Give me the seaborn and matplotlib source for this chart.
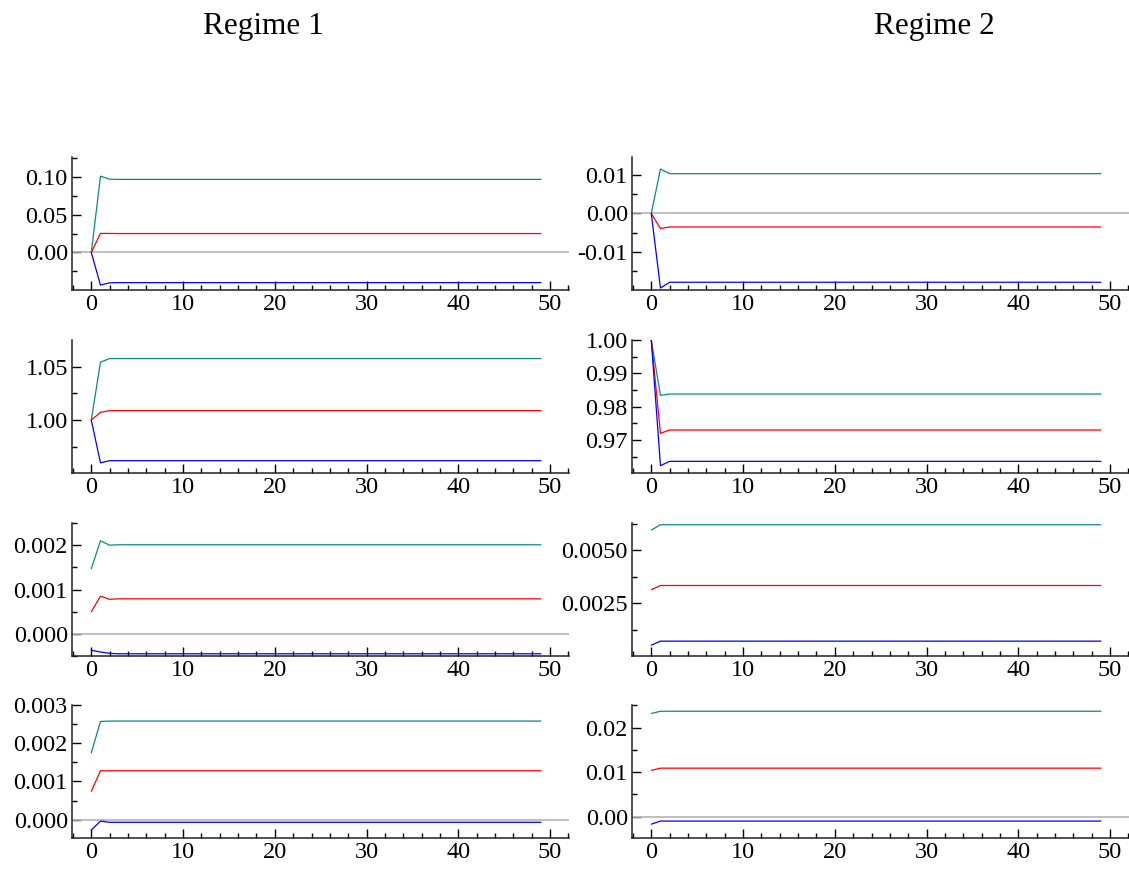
import matplotlib
matplotlib.use("Agg")
import pandas as pd
import seaborn as sns
import matplotlib.pyplot as plt
from matplotlib.ticker import MultipleLocator

# horizon 0..49 (flat after the first few steps)
H = 50
steps = list(range(H))

# Regime 1
r1_row1_up = [0.0, 0.1007, 0.0967] + [0.0965] * 47
r1_row1_mid = [0.0, 0.0252, 0.0251] + [0.0250] * 47
r1_row1_lo = [0.0, -0.0430, -0.0400] + [-0.0398] * 47

r1_row2_up = [1.0, 1.0541, 1.0575] + [1.0575] * 47
r1_row2_mid = [1.0, 1.0072, 1.0088] + [1.0088] * 47
r1_row2_lo = [1.0, 0.9600, 0.9620] + [0.9620] * 47

r1_row3_up = [0.00147, 0.00210, 0.00200] + [0.00201] * 47
r1_row3_mid = [0.00050, 0.00085, 0.00078] + [0.00079] * 47
r1_row3_lo = [-0.00037, -0.00041, -0.00044] + [-0.00045] * 47

r1_row4_up = [0.00175, 0.00257, 0.00258] + [0.00258] * 47
r1_row4_mid = [0.00074, 0.00128, 0.00128] + [0.00128] * 47
r1_row4_lo = [-0.00027, -0.00004, -0.00007] + [-0.00007] * 47

# Regime 2
r2_row1_up = [0.0, 0.0115, 0.0103] + [0.0103] * 47
r2_row1_mid = [0.0, -0.0039, -0.0035] + [-0.0035] * 47
r2_row1_lo = [0.0, -0.0193, -0.0178] + [-0.0178] * 47

r2_row2_up = [1.0, 0.9834, 0.9838] + [0.9838] * 47
r2_row2_mid = [1.0, 0.9720, 0.9730] + [0.9730] * 47
r2_row2_lo = [1.0, 0.9623, 0.9636] + [0.9636] * 47

r2_row3_up = [0.00595, 0.00620, 0.00620] + [0.00620] * 47
r2_row3_mid = [0.00314, 0.00334, 0.00334] + [0.00334] * 47
r2_row3_lo = [0.00053, 0.00072, 0.00072] + [0.00072] * 47

r2_row4_up = [0.0232, 0.0237, 0.0237] + [0.0237] * 47
r2_row4_mid = [0.0104, 0.0109, 0.0109] + [0.0109] * 47
r2_row4_lo = [-0.0017, -0.0010, -0.0010] + [-0.0010] * 47

titles = ["Regime 1", "Regime 2"]

panels = [
    [(r1_row1_up, r1_row1_mid, r1_row1_lo), (r2_row1_up, r2_row1_mid, r2_row1_lo)],
    [(r1_row2_up, r1_row2_mid, r1_row2_lo), (r2_row2_up, r2_row2_mid, r2_row2_lo)],
    [(r1_row3_up, r1_row3_mid, r1_row3_lo), (r2_row3_up, r2_row3_mid, r2_row3_lo)],
    [(r1_row4_up, r1_row4_mid, r1_row4_lo), (r2_row4_up, r2_row4_mid, r2_row4_lo)],
]

# y limits, major and minor steps per panel
ylims = [
    [(-0.0495, 0.126), (-0.0198, 0.0146)],
    [(0.9505, 1.0748), (0.9601, 1.0)],
    [(-0.0005, 0.0025), (0.00002, 0.00628)],
    [(-0.00048, 0.003), (-0.0048, 0.0251)],
]
ysteps = [
    [(0.05, 0.025), (0.01, 0.005)],
    [(0.05, 0.025), (0.01, 0.005)],
    [(0.001, 0.0005), (0.0025, 0.00125)],
    [(0.001, 0.0005), (0.01, 0.005)],
]
yfmt = [
    ["%.2f", "%.2f"],
    ["%.2f", "%.2f"],
    ["%.3f", "%.4f"],
    ["%.3f", "%.2f"],
]

colors = ["#0a8a85", "#ff0000", "#0000ff"]

sns.set_theme(style="ticks")
plt.rcParams["font.family"] = ["Liberation Serif", "DejaVu Serif"]
plt.rcParams["xtick.direction"] = "in"
plt.rcParams["ytick.direction"] = "in"
plt.rcParams["text.color"] = "black"
plt.rcParams["xtick.color"] = "black"
plt.rcParams["ytick.color"] = "black"
plt.rcParams["xtick.labelcolor"] = "black"
plt.rcParams["ytick.labelcolor"] = "black"

fig = plt.figure(figsize=(11.29, 8.69), dpi=100)

lefts = [0.0638, 0.5598]
width = 0.4405
bottoms = [0.6663, 0.4557, 0.2451, 0.0357]
height = 0.153

for r in range(4):
    for c in range(2):
        ax = fig.add_axes([lefts[c], bottoms[r], width, height])
        lo_lim, hi_lim = ylims[r][c]
        if lo_lim < 0 < hi_lim:
            ax.axhline(0, color="#b4b4b4", lw=1.2, zorder=1)
        for series, col in zip(panels[r][c], colors):
            df = pd.DataFrame({"t": steps, "v": series})
            sns.lineplot(data=df, x="t", y="v", color=col, lw=0.9, ax=ax, zorder=2)
        ax.set_xlim(-2.1, 52.1)
        ax.set_ylim(lo_lim, hi_lim)
        ax.xaxis.set_major_locator(MultipleLocator(10))
        ax.xaxis.set_minor_locator(MultipleLocator(2))
        ax.yaxis.set_major_locator(MultipleLocator(ysteps[r][c][0]))
        ax.yaxis.set_minor_locator(MultipleLocator(ysteps[r][c][1]))
        ax.yaxis.set_major_formatter(plt.FormatStrFormatter(yfmt[r][c]))
        ax.tick_params(which="major", length=6.5, width=1, labelsize=17.5, pad=3,
                       colors="black")
        ax.tick_params(which="minor", length=3.5, width=1, colors="black")
        ax.set_xlabel("")
        ax.set_ylabel("")
        for s in ["top", "right"]:
            ax.spines[s].set_visible(False)
        for s in ["left", "bottom"]:
            ax.spines[s].set_linewidth(1.1)
            ax.spines[s].set_color("#222222")

fig.text(0.233, 0.969, titles[0], ha="center", va="center", fontsize=22.5, color="black")
fig.text(0.828, 0.969, titles[1], ha="center", va="center", fontsize=22.5, color="black")

fig.savefig("out.png", dpi=100)
